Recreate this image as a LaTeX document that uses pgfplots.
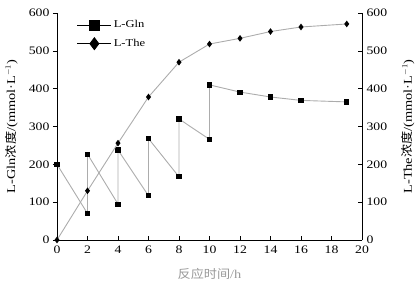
\documentclass[border=0pt]{standalone}
\usepackage{fontspec}
\setmainfont[FakeStretch=1.2]{Liberation Serif}
\newfontfamily\cjk[FakeStretch=1.1]{Noto Sans CJK SC}
\usepackage{pgfplots}
\pgfplotsset{compat=1.18}

\pgfplotsset{
  common/.style={
    scale only axis, width=305bp, height=227bp,
    at={(0,0)}, anchor=south west,
    xmin=0, xmax=20, ymin=0, ymax=600,
    xtick={0,2,...,20}, ytick={0,100,...,600},
    tick style={black, line width=0.6pt},
    major tick length=4bp,
    axis line style={black, line width=0.7pt},
    /pgf/number format/assume math mode=true,
    tick label style={font=\fontsize{11.5}{13}\selectfont},
    label style={font=\fontsize{12}{14}\selectfont},
  },
  glnline/.style={gray!65, line width=0.9pt, mark=square*, mark size=2.1bp,
    mark options={black, fill=black, solid}},
  theline/.style={gray!65, line width=0.9pt, mark=diamond*, mark size=2.6bp,
    mark options={black, fill=black, solid}},
}

\begin{document}
\begin{tikzpicture}
\begin{axis}[
  common,
  axis x line*=bottom, axis y line*=left,
  xtick align=inside, ytick align=outside,
  xticklabel style={yshift=-2bp},
  xlabel={\textcolor{gray!80}{{\cjk 反应时间}/h}},
  ylabel={L-Gln{\cjk 浓度}/(mmol·L$^{-1}$)},
  xlabel style={at={(axis description cs:0.5,-0.15)}, anchor=center},
  ylabel style={at={(axis description cs:-0.15,0.5)}, anchor=center},
  legend style={at={(0.055,0.985)}, anchor=north west, draw=none, fill=none,
    font=\fontsize{10.5}{12}\selectfont, row sep=6bp},
  legend cell align=left,
  legend image code/.code={
    \draw[mark repeat=2, mark phase=2, #1] plot coordinates {(0bp,0bp) (17bp,0bp) (34bp,0bp)};
  },
]
\addlegendimage{black, line width=0.8pt, mark=square*, mark size=5bp}
\addlegendentry{L-Gln}
\addlegendimage{black, line width=0.8pt, mark=diamond*, mark size=6bp}
\addlegendentry{L-The}

% L-Gln (sawtooth, fed-batch additions)
\addplot[glnline] coordinates {
  (0,200) (2,70) (2,227) (4,95) (4,238) (6,117) (6,268) (8,167) (8,320)
  (10,266) (10,410) (12,391) (14,378) (16,369) (19,365)
};
\end{axis}

\begin{axis}[
  common,
  axis x line=none, axis y line*=right,
  ytick align=inside,
  yticklabel style={xshift=1bp},
  ylabel={L-The{\cjk 浓度}/(mmol·L$^{-1}$)},
  ylabel style={at={(axis description cs:1.151,0.5)}, anchor=center},
]
% L-The
\addplot[theline] coordinates {
  (0,0) (2,130) (4,256) (6,378) (8,470) (10,518) (12,533) (14,551) (16,563) (19,571)
};
\end{axis}
\pgfresetboundingbox
\path (-57bp,-46bp) rectangle (363bp,240bp);
\end{tikzpicture}
\end{document}
